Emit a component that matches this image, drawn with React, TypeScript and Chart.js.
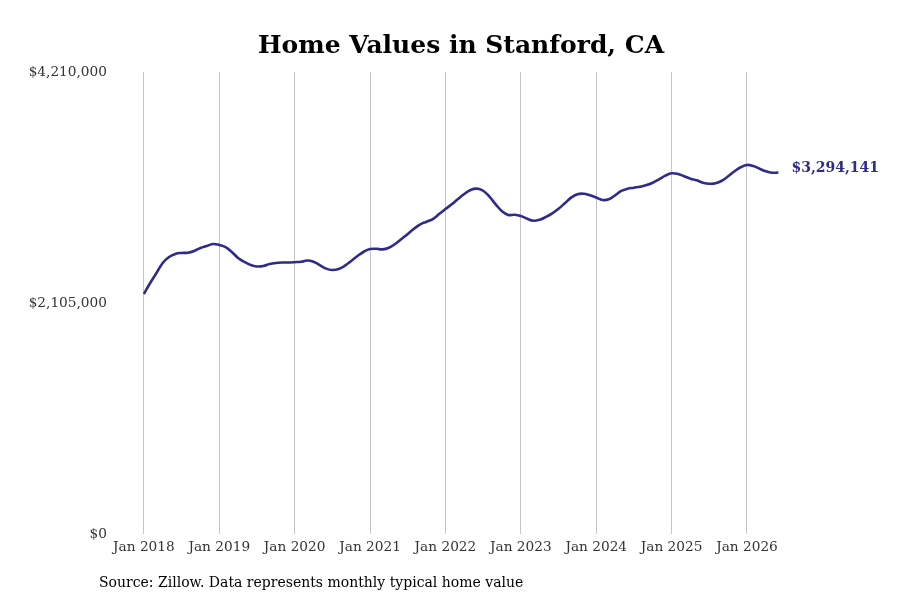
import { useEffect, useRef } from 'react';
import { Chart, registerables } from 'chart.js';

Chart.register(...registerables);

// Months since Jan 2018 (0 = Jan 2018 ... 101 = Jun 2026)
const homeValues: number[] = [
  2187000, 2287000, 2378000, 2470000, 2524000, 2552000, 2561000, 2563000, 2579000, 2606000, 2624000, 2643000,
  2634000, 2615000, 2570000, 2515000, 2479000, 2451000, 2438000, 2442000, 2460000, 2470000, 2474000, 2474000,
  2477000, 2481000, 2492000, 2481000, 2451000, 2418000, 2406000, 2415000, 2445000, 2488000, 2533000, 2572000,
  2597000, 2599000, 2594000, 2609000, 2643000, 2688000, 2734000, 2782000, 2822000, 2846000, 2870000, 2916000,
  2962000, 3004000, 3053000, 3098000, 3135000, 3147000, 3128000, 3074000, 3004000, 2941000, 2907000, 2909000,
  2898000, 2873000, 2855000, 2864000, 2889000, 2922000, 2964000, 3014000, 3065000, 3096000, 3101000, 3086000,
  3066000, 3044000, 3050000, 3086000, 3126000, 3147000, 3156000, 3165000, 3180000, 3201000, 3232000, 3265000,
  3287000, 3281000, 3260000, 3238000, 3223000, 3201000, 3192000, 3196000, 3219000, 3260000, 3305000, 3342000,
  3363000, 3353000, 3329000, 3305000, 3292000, 3294141,
];

const yearTicks: number[] = [0, 12, 24, 36, 48, 60, 72, 84, 96];
const yTicks: number[] = [0, 2105000, 4210000];

const LINE_COLOR = '#2f2b8a';
const FONT = '"DejaVu Serif", serif';

const fmtMoney = (v: number) => '$' + Math.round(v).toLocaleString('en-US');

const textPlugin = {
  id: 'texts',
  afterDraw(chart: Chart) {
    const { ctx } = chart;
    ctx.save();
    // title
    ctx.fillStyle = '#000';
    ctx.font = `bold 25px ${FONT}`;
    ctx.textAlign = 'center';
    ctx.textBaseline = 'middle';
    ctx.fillText('Home Values in Stanford, CA', 461, 46);
    // source
    ctx.font = `14px ${FONT}`;
    ctx.textAlign = 'left';
    ctx.fillText('Source: Zillow. Data represents monthly typical home value', 99, 583);
    // end label
    const meta = chart.getDatasetMeta(0);
    const last = meta.data[meta.data.length - 1];
    if (last) {
      ctx.fillStyle = LINE_COLOR;
      ctx.font = `bold 14px ${FONT}`;
      ctx.fillText(fmtMoney(homeValues[homeValues.length - 1]), last.x + 13, last.y - 4);
    }
    ctx.restore();
  },
};

export default function App() {
  const canvasRef = useRef<HTMLCanvasElement>(null);

  useEffect(() => {
    if (!canvasRef.current) return;
    const chart = new Chart(canvasRef.current, {
      type: 'line',
      data: {
        datasets: [
          {
            data: homeValues.map((v, i) => ({ x: i, y: v })),
            borderColor: LINE_COLOR,
            borderWidth: 2.6,
            pointRadius: 0,
            tension: 0.4,
            fill: false,
          },
        ],
      },
      options: {
        animation: false,
        responsive: false,
        devicePixelRatio: 1,
        layout: { padding: { top: 72, right: 115, bottom: 36, left: 0 } },
        plugins: {
          legend: { display: false },
          tooltip: { enabled: false },
          title: { display: false },
        },
        scales: {
          x: {
            type: 'linear',
            min: -4.6,
            max: 102.05,
            afterFit: (axis: any) => {
              axis.height = 30;
            },
            afterBuildTicks: (axis: any) => {
              axis.ticks = yearTicks.map((v) => ({ value: v }));
            },
            grid: { display: true, color: '#c4c4c4', lineWidth: 1, drawTicks: false },
            border: { display: false },
            ticks: {
              padding: 5,
              color: '#333',
              font: { family: FONT, size: 13.7 },
              maxRotation: 0,
              autoSkip: false,
              callback: (v: any) => 'Jan ' + (2018 + Math.round(Number(v) / 12)),
            },
          },
          y: {
            min: 0,
            max: 4210000,
            afterFit: (axis: any) => {
              axis.width = 115;
            },
            afterBuildTicks: (axis: any) => {
              axis.ticks = yTicks.map((v) => ({ value: v }));
            },
            grid: { display: false, drawTicks: false },
            border: { display: false },
            ticks: {
              padding: 8,
              color: '#333',
              font: { family: FONT, size: 13.7 },
              callback: (v: any) => fmtMoney(Number(v)),
            },
          },
        },
      },
      plugins: [textPlugin],
    });
    return () => chart.destroy();
  }, []);

  return (
    <div style={{ position: 'fixed', left: 0, top: 0, width: 900, height: 600, background: '#fff' }}>
      <canvas ref={canvasRef} width={900} height={600} style={{ width: 900, height: 600 }} />
    </div>
  );
}
